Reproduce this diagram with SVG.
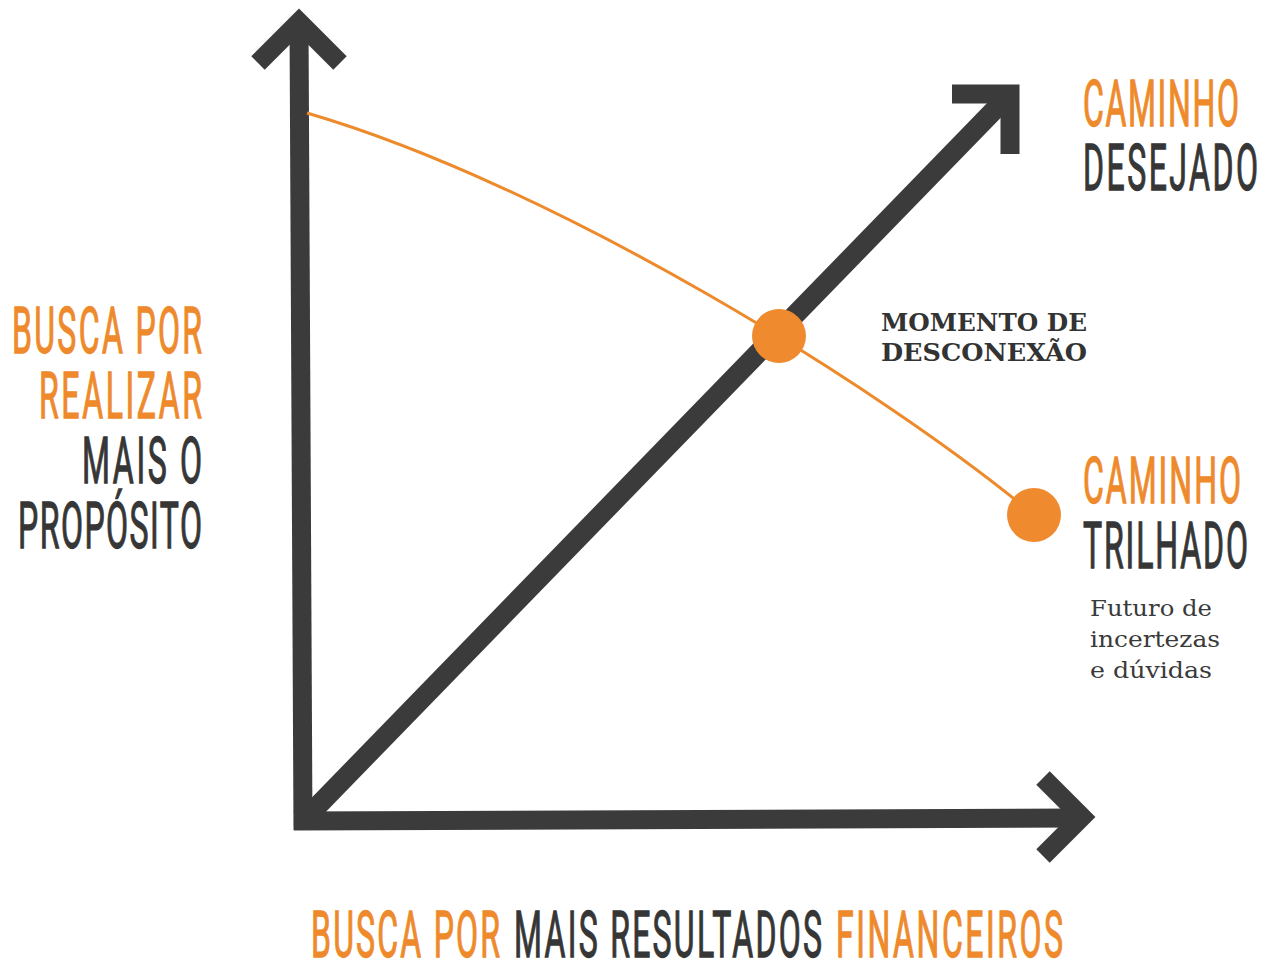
<svg xmlns="http://www.w3.org/2000/svg" width="1264" height="966" viewBox="0 0 1264 966">
  <style>
    .axis { fill: none; stroke: #3b3b3c; stroke-width: 19; stroke-linejoin: miter; stroke-linecap: butt; stroke-miterlimit: 10; }
    .curve { fill: none; stroke: #ec8a2c; stroke-width: 3; }
    .dot { fill: #f08a2e; }
    .big { font-family: Roboto, "Liberation Sans", sans-serif; font-weight: 400; font-size: 32px; stroke-width: 1px; vector-effect: non-scaling-stroke; }
    .or { fill: #ee8a2b; stroke: #ee8a2b; }
    .dk { fill: #363636; stroke: #363636; }
    .slab { font-family: "DejaVu Serif", "Liberation Serif", serif; font-weight: bold; font-size: 25px; fill: #333333; }
    .note { font-family: "DejaVu Serif", "Liberation Serif", serif; font-size: 22px; fill: #3a3a3a; }
  </style>
  <rect width="1264" height="966" fill="#ffffff"/>

  <g id="connectors">
    <!-- vertical axis -->
    <polyline class="axis" points="303,830 299,22"/>
    <polyline class="axis" points="258,63 299,22 340,63"/>
    <!-- horizontal axis -->
    <polyline class="axis" points="294,821 1080,818"/>
    <polyline class="axis" points="1043,778 1082,817 1043,856"/>
    <!-- diagonal: caminho desejado -->
    <line class="axis" x1="303" y1="821" x2="1006" y2="98" style="stroke-width:20"/>
    <polyline class="axis" points="952,94 1010,94 1010,154"/>
    <!-- orange curve: caminho trilhado -->
    <path id="trilhado-curve" class="curve" d="M307,113 C557,186 884,390 1034,515"/>
  </g>

  <g id="node-momento">
    <circle class="dot" cx="779" cy="336" r="27"/>
    <text class="slab" x="881" y="331" textLength="206" lengthAdjust="spacingAndGlyphs">MOMENTO DE</text>
    <text class="slab" x="881" y="361" textLength="206" lengthAdjust="spacingAndGlyphs">DESCONEXÃO</text>
  </g>

  <g id="node-trilhado">
    <circle class="dot" cx="1034" cy="515" r="27"/>
    <text class="big or" transform="translate(1083,503) scale(1,2)" textLength="158" lengthAdjust="spacing">CAMINHO</text>
    <text class="big dk" transform="translate(1083,568) scale(1,2)" textLength="165" lengthAdjust="spacing">TRILHADO</text>
    <text class="note" x="1090" y="616" textLength="122" lengthAdjust="spacingAndGlyphs">Futuro de</text>
    <text class="note" x="1090" y="647" textLength="130" lengthAdjust="spacingAndGlyphs">incertezas</text>
    <text class="note" x="1090" y="678" textLength="122" lengthAdjust="spacingAndGlyphs">e dúvidas</text>
  </g>

  <g id="node-desejado">
    <text class="big or" transform="translate(1083,126) scale(1,2)" textLength="156" lengthAdjust="spacing">CAMINHO</text>
    <text class="big dk" transform="translate(1083,190) scale(1,2)" textLength="175" lengthAdjust="spacing">DESEJADO</text>
  </g>

  <g id="label-y-axis">
    <text class="big or" transform="translate(12,353) scale(1,2)" textLength="190" lengthAdjust="spacing">BUSCA POR</text>
    <text class="big or" transform="translate(39,418) scale(1,2)" textLength="163" lengthAdjust="spacing">REALIZAR</text>
    <text class="big dk" transform="translate(82,483) scale(1,2)" textLength="120" lengthAdjust="spacing">MAIS O</text>
    <text class="big dk" transform="translate(18,548) scale(1,2)" textLength="184" lengthAdjust="spacing">PROPÓSITO</text>
  </g>

  <g id="label-x-axis">
    <text class="big or" transform="translate(311,957) scale(1,2)" textLength="189" lengthAdjust="spacing">BUSCA POR</text>
    <text class="big dk" transform="translate(514,957) scale(1,2)" textLength="308" lengthAdjust="spacing">MAIS RESULTADOS</text>
    <text class="big or" transform="translate(836,957) scale(1,2)" textLength="227" lengthAdjust="spacing">FINANCEIROS</text>
  </g>
</svg>
